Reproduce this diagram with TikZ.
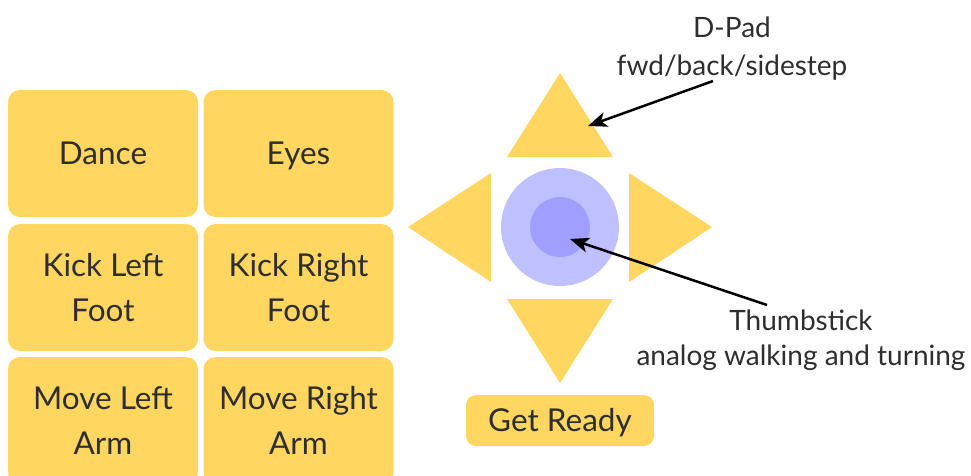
\documentclass[tikz,border=0pt]{standalone}
\usepackage{fontspec}
\setmainfont{Lato}
\usetikzlibrary{arrows.meta}
\definecolor{padyellow}{HTML}{FFD760}
\definecolor{stickouter}{HTML}{BFC0FF}
\definecolor{stickinner}{HTML}{A09FFF}
\definecolor{ink}{HTML}{2E2E2E}
\begin{document}
\begin{tikzpicture}[x=1pt,y=-1pt,
  btn/.style={fill=padyellow, draw=none, rounded corners=12pt,
    minimum width=190pt, minimum height=127pt, inner sep=0pt,
    text=ink, font=\fontsize{31.5}{45}\selectfont, align=center,
    text height=22.6pt, text depth=0pt},
  twoline/.style={text height=67.6pt},
  smallbtn/.style={btn, rounded corners=10pt, minimum width=188pt, minimum height=51pt},
  note/.style={text=ink, align=center, inner sep=0pt, text depth=0pt},
  arr/.style={draw=black, line width=2.5pt, -{Stealth[length=19pt,width=15pt,inset=5pt]}}
]
\useasboundingbox (0,0) rectangle (971,475);
\clip (0,0) rectangle (971,475);

% action buttons
\node[btn] (dance) at (103,153.5) {Dance};
\node[btn] (eyes)  at (298.5,153.5) {Eyes};
\node[btn, twoline] (kickl) at (103,287.5) {Kick Left\\Foot};
\node[btn, twoline] (kickr) at (298.5,287.5) {Kick Right\\Foot};
\node[btn, twoline] (movel) at (103,420.5) {Move Left\\Arm};
\node[btn, twoline] (mover) at (298.5,420.5) {Move Right\\Arm};
\node[smallbtn] (ready) at (560,420.5) {Get Ready};

% d-pad triangles
\fill[padyellow] (560,73) -- (613,157) -- (507,157) -- cycle;
\fill[padyellow] (408,227) -- (491,173) -- (491,282) -- cycle;
\fill[padyellow] (712,227) -- (629,173) -- (629,282) -- cycle;
\fill[padyellow] (507,299) -- (613,299) -- (560,383) -- cycle;

% thumbstick
\node[circle, fill=stickouter, minimum size=118pt, inner sep=0pt] (stick) at (560,227) {};
\node[circle, fill=stickinner, minimum size=60pt, inner sep=0pt] (cap) at (stick.center) {};

% labels and pointers
\node[note, font=\fontsize{28}{38}\selectfont, text height=58pt] (dpad) at (732,46) {D-Pad\\fwd/back/sidestep};
\node[note, font=\fontsize{28}{35}\selectfont, text height=55pt] (thumb) at (801,337.5) {Thumbstick\\analog walking and turning};

\coordinate (dpadfrom) at (713,81);
\coordinate (uphit) at (588,126);
\coordinate (thumbfrom) at (767,305);
\coordinate (caphit) at (570,239);
\draw[arr] (dpadfrom) -- (uphit);
\draw[arr] (thumbfrom) -- (caphit);
\end{tikzpicture}
\end{document}
